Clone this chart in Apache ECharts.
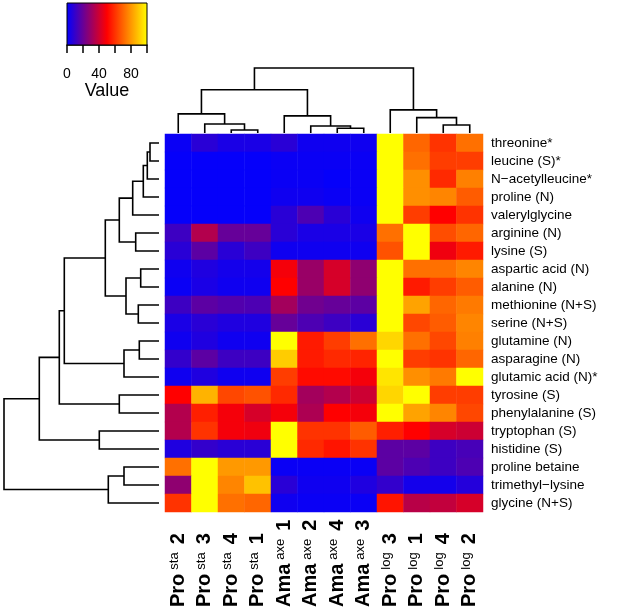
<!DOCTYPE html>
<html><head><meta charset="utf-8">
<script src="https://cdn.jsdelivr.net/npm/echarts@6/dist/echarts.min.js"></script>
<style>html,body{margin:0;padding:0;background:#fff}#c{width:625px;height:612px}</style>
</head><body><div id="c"></div>
<script>
// ---- data ----
const rowNames = ['threonine*','leucine (S)*','N\u2212acetylleucine*','proline (N)','valerylglycine','arginine (N)','lysine (S)',
  'aspartic acid (N)','alanine (N)','methionine (N+S)','serine (N+S)','glutamine (N)','asparagine (N)','glutamic acid (N)*',
  'tyrosine (S)','phenylalanine (S)','tryptophan (S)','histidine (S)','proline betaine','trimethyl\u2212lysine','glycine (N+S)'];
const colBase = ['Pro','Pro','Pro','Pro','Ama','Ama','Ama','Ama','Pro','Pro','Pro','Pro'];
const colSup  = ['sta','sta','sta','sta','axe','axe','axe','axe','log','log','log','log'];
const colNum  = ['2','3','4','1','1','2','4','3','3','1','4','2'];
const values = [
  [2, 8, 5, 5, 8, 3, 3, 3, 100, 70, 60, 72],
  [1, 1, 1, 1, 2, 2, 2, 2, 100, 72, 62, 62],
  [1, 1, 1, 1, 2, 2, 1, 2, 100, 78, 58, 75],
  [1, 1, 1, 1, 3, 3, 2, 2, 100, 78, 76, 68],
  [1, 1, 1, 1, 8, 15, 8, 3, 100, 62, 50, 60],
  [12, 35, 20, 20, 8, 5, 5, 5, 72, 100, 65, 70],
  [8, 18, 8, 12, 3, 3, 3, 3, 66, 100, 47, 55],
  [3, 6, 4, 4, 48, 30, 42, 28, 100, 72, 72, 76],
  [2, 5, 3, 3, 50, 30, 42, 28, 100, 55, 62, 68],
  [12, 18, 16, 15, 32, 22, 20, 18, 100, 82, 70, 74],
  [5, 8, 6, 6, 20, 15, 12, 8, 100, 64, 68, 76],
  [3, 6, 3, 3, 100, 55, 62, 72, 92, 72, 64, 75],
  [10, 18, 12, 12, 90, 55, 58, 57, 100, 62, 60, 70],
  [3, 6, 3, 3, 62, 52, 52, 48, 95, 78, 74, 100],
  [50, 85, 64, 66, 58, 32, 35, 40, 92, 100, 62, 62],
  [35, 56, 48, 42, 48, 34, 50, 48, 100, 82, 76, 64],
  [35, 60, 48, 47, 100, 60, 60, 68, 56, 50, 42, 40],
  [6, 10, 8, 8, 100, 58, 54, 60, 18, 18, 12, 14],
  [72, 100, 80, 80, 2, 2, 2, 2, 18, 15, 12, 15],
  [28, 100, 76, 88, 8, 3, 3, 6, 10, 4, 4, 7],
  [60, 100, 72, 70, 3, 2, 2, 2, 54, 36, 38, 42]
];
// dendrograms: negative = leaf position (1-based, display order), positive = earlier merge (1-based)
const colMerge = [[-3,-4],[-2,1],[-1,2],[-7,-8],[-6,4],[-5,5],[3,6],[-11,-12],[-10,8],[-9,9],[7,10]];
const colHeight = [3, 9, 19, 4.7, 7, 17, 43, 8, 15.3, 23, 64.7];
const rowMerge = [[-1,-2],[1,-3],[2,-4],[3,-5],[-6,-7],[4,5],[-8,-9],[-10,-11],[7,8],[6,9],[-12,-13],[11,-14],[10,12],
  [-15,-16],[13,14],[-17,-18],[15,16],[-19,-20],[18,-21],[17,19]];
const rowHeight = [9, 11.7, 15.7, 26.3, 23.3, 39.7, 18.3, 20.7, 33, 53.7, 19.7, 35, 94.7, 39.7, 99.7, 59.7, 119.7, 35, 50.7, 155];
const keyTicks = [0, 40, 80];

// ---- build ----
function dendroSegments(merge, heights){
  const pos = [], out = [];
  const node = k => k < 0 ? [-k - 0.5, 0] : [pos[k-1], heights[k-1]];
  merge.forEach((m, i) => {
    const a = node(m[0]), b = node(m[1]);
    pos.push((a[0] + b[0]) / 2);
    out.push([a[0], a[1], b[0], b[1], heights[i]]);
  });
  return out;
}
const heatData = [];
values.forEach((row, r) => row.forEach((v, c) => heatData.push([c, r, v])));

function dendroRender(top){
  return function(params, api){
    const p1 = api.value(0), h1 = api.value(1), p2 = api.value(2), h2 = api.value(3), hm = api.value(4);
    const pts = top ? [[p1,h1],[p1,hm],[p2,hm],[p2,h2]] : [[h1,p1],[hm,p1],[hm,p2],[h2,p2]];
    return {type:'polyline', shape:{points: pts.map(p => api.coord(p))},
      style:{stroke:'#000', lineWidth:1.6, fill:null}};
  };
}

const FONT = '"Liberation Sans", Arial, Helvetica, sans-serif';
const chart = echarts.init(document.getElementById('c'), null, {renderer:'canvas'});
chart.setOption({
  animation:false,
  textStyle:{fontFamily:FONT},
  grid:[
    {left:165, top:134, width:318, height:378},
    {left:165, top:68, width:318, height:65},
    {left:4, top:134, width:155, height:378},
    {left:67, top:3, width:80, height:42}
  ],
  xAxis:[
    {type:'category', gridIndex:0, data:colNum.map((n,i)=>colBase[i]+colSup[i]+n), position:'bottom',
      axisLine:{show:false}, axisTick:{show:false}, splitLine:{show:false},
      axisLabel:{rotate:90, align:'left', margin:95, interval:0, color:'#000',
        formatter:(v, i) => '{b|' + colBase[i] + '}{s|' + colSup[i] + '}{b|' + colNum[i] + '}',
        rich:{b:{fontSize:20, fontWeight:'bold', fontFamily:FONT, color:'#000'},
              s:{fontSize:13, fontFamily:FONT, color:'#000', verticalAlign:'top', padding:[0,8,0,4]}}}},
    {type:'value', gridIndex:1, min:0, max:12, show:false},
    {type:'value', gridIndex:2, min:0, max:155, inverse:true, show:false},
    {type:'value', gridIndex:3, min:0, max:100, interval:20, position:'bottom',
      axisLine:{show:true, lineStyle:{color:'#000', width:1.5}},
      axisTick:{show:true, length:8, lineStyle:{color:'#000', width:1.5}},
      splitLine:{show:false},
      axisLabel:{margin:22, fontSize:14, color:'#000', fontFamily:FONT,
        formatter:v => keyTicks.indexOf(v) >= 0 ? String(v) : ''},
      name:'Value', nameLocation:'middle', nameGap:33,
      nameTextStyle:{fontSize:18, color:'#000', fontFamily:FONT}}
  ],
  yAxis:[
    {type:'category', gridIndex:0, data:rowNames, inverse:true, position:'right',
      axisLine:{show:false}, axisTick:{show:false}, splitLine:{show:false},
      axisLabel:{margin:8, interval:0, fontSize:13.5, color:'#000', fontFamily:FONT}},
    {type:'value', gridIndex:1, min:0, max:64.7, show:false},
    {type:'value', gridIndex:2, min:0, max:21, inverse:true, show:false},
    {type:'value', gridIndex:3, min:0, max:1, show:false}
  ],
  visualMap:{type:'continuous', min:0, max:100, show:false, seriesIndex:0, dimension:2,
    inRange:{color:['#0000ff','#ff0000','#ffff00']}},
  series:[
    {type:'heatmap', xAxisIndex:0, yAxisIndex:0, data:heatData, itemStyle:{borderWidth:0},
      emphasis:{disabled:true}},
    {type:'custom', xAxisIndex:1, yAxisIndex:1, data:dendroSegments(colMerge, colHeight),
      encode:{x:[0,2], y:[1,3,4]}, renderItem:dendroRender(true), silent:true},
    {type:'custom', xAxisIndex:2, yAxisIndex:2, data:dendroSegments(rowMerge, rowHeight),
      encode:{x:[1,3,4], y:[0,2]}, renderItem:dendroRender(false), silent:true},
    {type:'custom', xAxisIndex:3, yAxisIndex:3, data:[[0,0],[100,1]], silent:true,
      renderItem:(params, api) => {
        if (params.dataIndex !== 0) return;
        const a = api.coord([0,1]), b = api.coord([100,0]);
        return {type:'rect', shape:{x:a[0], y:a[1], width:b[0]-a[0], height:b[1]-a[1]},
          style:{fill:new echarts.graphic.LinearGradient(0,0,1,0,[
            {offset:0,color:'#0000ff'},{offset:0.5,color:'#ff0000'},{offset:1,color:'#ffff00'}]),
            stroke:'#000', lineWidth:1}};
      }}
  ]
});
</script></body></html>
